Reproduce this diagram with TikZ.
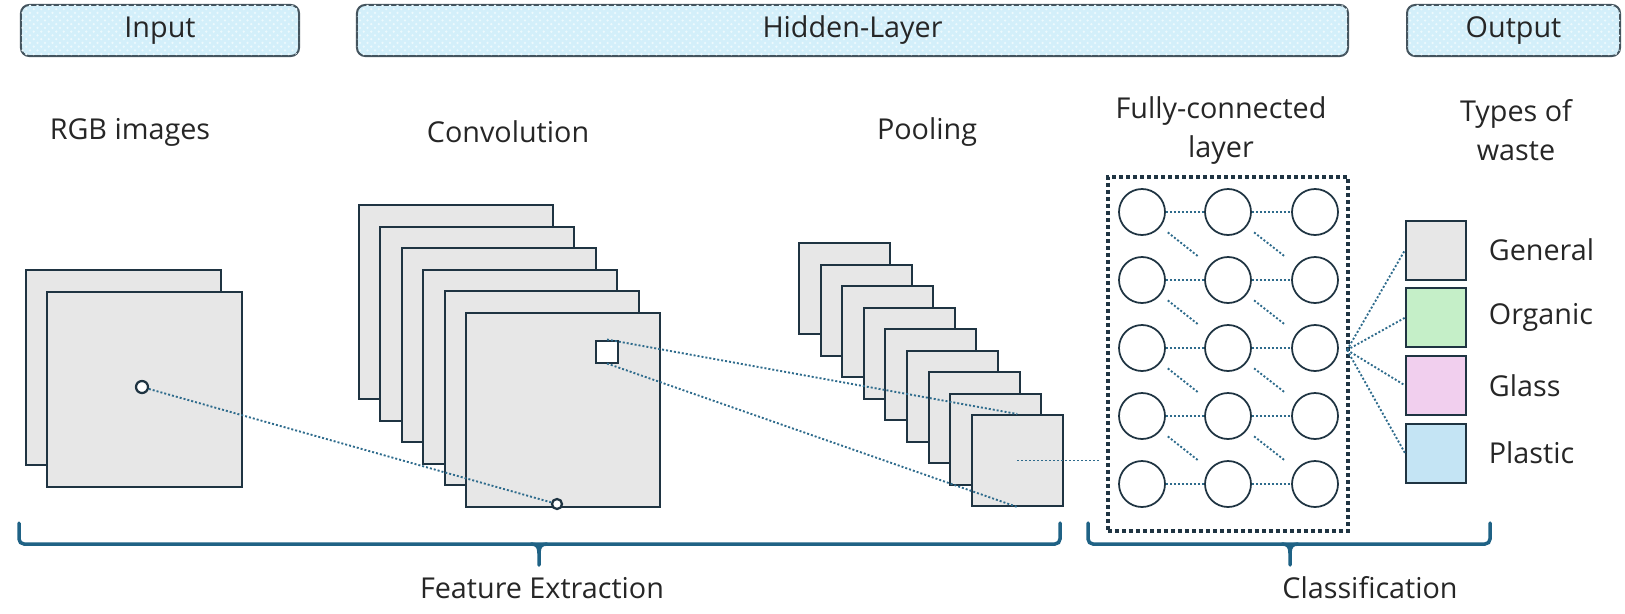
\documentclass[tikz,border=0pt]{standalone}
\usepackage{fontspec}
\setmainfont{Open Sans}
\usetikzlibrary{calc,patterns}
\definecolor{sqfill}{HTML}{E7E7E7}
\definecolor{sqline}{HTML}{1F3442}
\definecolor{linkcol}{HTML}{2E6B8C}
\definecolor{bracecol}{HTML}{1F6285}
\definecolor{hdrfill}{HTML}{D3EFFA}
\definecolor{hdrline}{HTML}{44545E}
\definecolor{txtcol}{HTML}{262626}
\definecolor{generalfill}{HTML}{E7E7E7}
\definecolor{organicfill}{HTML}{C5EFC8}
\definecolor{glassfill}{HTML}{F1CFEE}
\definecolor{plasticfill}{HTML}{C4E4F4}
\tikzset{
  hdr/.style={draw=hdrline, line width=0.8pt, rounded corners=3.2pt, fill=hdrfill,
    postaction={pattern=crosshatch dots, pattern color=white!60!hdrfill},
    minimum height=20.4pt, inner sep=0pt},
  fmap/.style={draw=sqline, fill=sqfill, line width=0.8pt, inner sep=0pt,
    anchor=north west, minimum size=#1},
  pix/.style={circle, draw=sqline, fill=white, line width=0.9pt, inner sep=0pt},
  neuron/.style={circle, draw=sqline, line width=0.7pt, minimum size=18.4pt, inner sep=0pt},
  tag/.style={draw=sqline, line width=0.8pt, minimum width=24pt, minimum height=23.6pt, inner sep=0pt},
  link/.style={draw=linkcol, line width=0.75pt, dash pattern=on 0.8pt off 0.8pt},
  brace/.style={draw=bracecol, line width=1.4pt, line cap=round}
}
\begin{document}
\begin{tikzpicture}[x=0.4pt, y=-0.4pt,
  every node/.style={font=\fontsize{11.5}{15.6}\selectfont, text=txtcol}]
\useasboundingbox (0,0) rectangle (1625,613);
% headers
\node[hdr, minimum width=111.2pt] (hinput) at (160,30.5) {Input};
\node[hdr, minimum width=396.4pt] (hhidden) at (852.5,30.5) {Hidden-Layer};
\node[hdr, minimum width=85.2pt] (houtput) at (1513.5,30.5) {Output};
% titles
\node (trgb) at (130,132) {RGB images};
\node (tconv) at (508,132) {Convolution};
\node (tpool) at (927,132) {Pooling};
\node[align=center] (tfc) at (1221,130.5) {Fully-connected\\layer};
\node[align=center] (tout) at (1516,130.5) {Types of\\waste};
% input images
\node[fmap=78pt] (rgb0) at (25,269) {};
\node[fmap=78pt] (rgb1) at (46,291) {};
% convolution maps
\foreach \i in {0,...,5}
  \node[fmap=77.6pt] (conv\i) at (358+21.4*\i, 204+21.6*\i) {};
% pooling maps
\foreach \i in {0,...,8}
  \node[fmap=36.4pt] (pool\i) at (798+21.6*\i, 242+21.5*\i) {};
% window and pixels
\node[draw=sqline, fill=white, line width=0.8pt, minimum size=8.8pt, inner sep=0pt] (win) at (607,351.5) {};
\node[pix, minimum size=4.8pt] (px) at (142,387) {};
\node[pix, minimum size=4pt] (cpx) at (557,504) {};
\draw[link] (px) -- (cpx);
\draw[link] (win.north) -- (pool8.north);
\draw[link] (win.south) -- (pool8.south);
% fully-connected layer
\node[draw=sqline, line width=1.5pt, dash pattern=on 1.5pt off 1.3pt, minimum width=96pt,
  minimum height=141.6pt, inner sep=0pt, anchor=north west] (fcbox) at (1106,175) {};
\foreach \c/\x in {1/1142, 2/1228, 3/1315}
  \foreach \r/\y in {1/212, 2/280, 3/348, 4/416, 5/484}
    \node[neuron] (n\r\c) at (\x,\y) {};
\foreach \r in {1,...,5}{
  \draw[link] (n\r1) -- (n\r2);
  \draw[link] (n\r2) -- (n\r3);
}
\foreach \r [count=\s from 2] in {1,...,4}{
  \draw[link] ($(n\r1)!0.3!(n\s2)$) -- ($(n\r1)!0.65!(n\s2)$);
  \draw[link] ($(n\r2)!0.3!(n\s3)$) -- ($(n\r2)!0.65!(n\s3)$);
}
\draw[link, shorten >=2.4pt] (pool8.center) -- (pool8.center -| fcbox.west);
% output classes
\foreach \k/\name/\col [count=\i from 0] in {gen/General/generalfill, org/Organic/organicfill,
    gla/Glass/glassfill, pla/Plastic/plasticfill}{
  \node[tag, fill=\col] (\k) at (1436, 250+67.7*\i) {};
  \node[anchor=west] (l\k) at (1480, 250+67.7*\i) {\name};
}
\coordinate (fcout) at (1347,350);
\foreach \k in {gen,org,gla,pla}
  \draw[link] (fcout) -- (\k.west);
% braces
\draw[brace, rounded corners=2pt] (19,523) -- (19,544) -- (1060,544) -- (1060,523);
\draw[brace] (531,544) .. controls (537,544) and (539,547) .. (539,553) -- (539,565);
\draw[brace] (547,544) .. controls (541,544) and (539,547) .. (539,553);
\draw[brace, rounded corners=2pt] (1088,523) -- (1088,544) -- (1490,544) -- (1490,523);
\draw[brace] (1282,544) .. controls (1288,544) and (1290,547) .. (1290,553) -- (1290,565);
\draw[brace] (1298,544) .. controls (1292,544) and (1290,547) .. (1290,553);
\node (tfeat) at (542,588) {Feature Extraction};
\node (tclass) at (1370,588) {Classification};
\end{tikzpicture}
\end{document}
